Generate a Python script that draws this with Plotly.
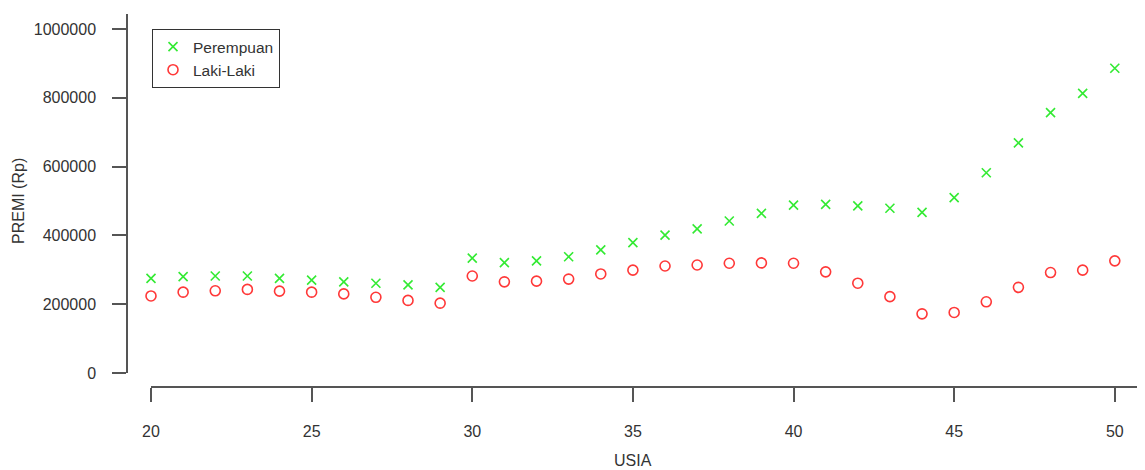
import plotly.graph_objects as go

usia = list(range(20, 51))
perempuan = [275000, 280000, 282000, 282000, 275000, 270000, 265000, 261000, 256000, 249000,
             334000, 321000, 326000, 338000, 358000, 379000, 401000, 419000, 442000, 464000,
             488000, 490000, 486000, 479000, 467000, 510000, 582000, 669000, 757000, 813000, 886000]
laki_laki = [224000, 235000, 239000, 243000, 238000, 235000, 230000, 220000, 211000, 203000,
             282000, 265000, 267000, 273000, 288000, 299000, 311000, 314000, 319000, 320000,
             319000, 294000, 261000, 222000, 172000, 176000, 207000, 249000, 292000, 299000, 326000]
x_ticks = [20, 25, 30, 35, 40, 45, 50]
y_ticks = [0, 200000, 400000, 600000, 800000, 1000000]

FONT = "Liberation Sans, Arial, sans-serif"
TXT = "#333333"
AX = "#555555"

fig = go.Figure()
fig.add_trace(go.Scatter(
    x=usia, y=perempuan, mode="markers", name="Perempuan", cliponaxis=False,
    marker=dict(symbol="x-thin-open", size=9, line=dict(color="#33ea33", width=1.6), color="#33ea33"),
))
fig.add_trace(go.Scatter(
    x=usia, y=laki_laki, mode="markers", name="Laki-Laki", cliponaxis=False,
    marker=dict(symbol="circle-open", size=10, line=dict(color="#ff3838", width=1.6), color="#ff3838"),
))

OFF = 8  # page body margin
W, H = 1145 - OFF, 470 - OFF
ml = 127 - OFF
mt = 14 - OFF
x_axis_y = 387 - OFF
mr = 0
mb = H - x_axis_y
pw = W - ml - mr
ph = H - mt - mb
x_dom0 = (151 - 127) / pw
y_dom0 = (387 - 373) / ph


def px_y(screen_y):
    return (387 - screen_y) / ph


def px_x(screen_x):
    return (screen_x - 127) / pw


fig.update_layout(
    width=W, height=H,
    margin=dict(l=ml, r=mr, t=mt, b=mb, pad=0),
    paper_bgcolor="white", plot_bgcolor="white",
    font=dict(family=FONT, size=16, color=TXT),
    showlegend=True,
    legend=dict(
        x=px_x(152), y=px_y(29), xanchor="left", yanchor="top",
        bordercolor="#333333", borderwidth=1, bgcolor="white",
        font=dict(family=FONT, size=15.5, color=TXT),
        itemwidth=30, tracegroupgap=0,
    ),
    xaxis=dict(
        domain=[x_dom0, 1], range=[20, 50.94], anchor="free", position=0,
        showline=True, linecolor=AX, linewidth=1.5,
        ticks="outside", ticklen=14, tickwidth=1.5, tickcolor=AX,
        tickvals=x_ticks, showgrid=False, zeroline=False,
        ticklabelstandoff=16,
        tickfont=dict(family=FONT, size=16, color=TXT),
    ),
    yaxis=dict(
        domain=[y_dom0, 1], range=[0, 1043600], anchor="free", position=0,
        showline=True, linecolor=AX, linewidth=1.5,
        ticks="outside", ticklen=14, tickwidth=1.5, tickcolor=AX,
        tickvals=y_ticks, tickformat="d", showgrid=False, zeroline=False,
        ticklabelstandoff=13,
        tickfont=dict(family=FONT, size=16, color=TXT),
    ),
    annotations=[
        dict(text="USIA", xref="x", yref="paper", x=35, y=px_y(461),
             xanchor="center", yanchor="middle", showarrow=False,
             font=dict(family=FONT, size=16, color=TXT)),
        dict(text="PREMI (Rp)", xref="paper", yref="y", x=px_x(18), y=500000,
             xanchor="center", yanchor="middle", textangle=-90, showarrow=False,
             font=dict(family=FONT, size=16, color=TXT)),
    ],
)

fig.write_html("out.html")
